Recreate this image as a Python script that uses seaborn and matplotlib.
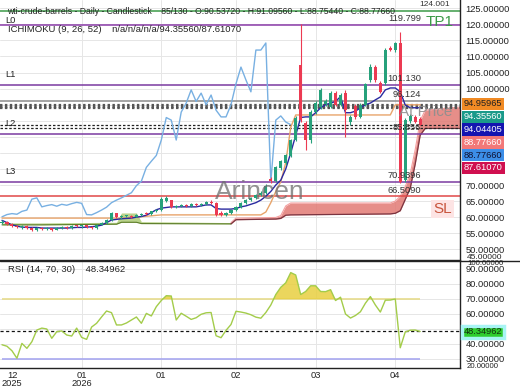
import numpy as np
import pandas as pd
import matplotlib
matplotlib.use("Agg")
import matplotlib.pyplot as plt
import seaborn as sns
from matplotlib.lines import Line2D

sns.set_style("white")
plt.rcParams['font.family'] = ['Liberation Sans', 'DejaVu Sans']

# ---- candles (85 daily bars) ----
opens = [58.2, 58.6, 57.9, 57.3, 56.8, 57.2, 56.5, 56.0, 56.6, 56.2,
         56.5, 56.1, 56.7, 57.0, 56.6, 57.3, 57.1, 57.4, 56.9, 56.5,
         57.6, 58.3, 59.1, 61.2, 59.9, 60.3, 60.5, 60.1, 60.8, 61.1,
         60.9, 61.8, 62.2, 65.0, 65.2, 63.2, 63.6, 63.9, 63.4, 64.0,
         63.7, 64.2, 64.6, 64.3, 61.2, 60.7, 61.4, 62.2, 63.1, 64.5,
         65.3, 66.0, 66.8, 67.6, 72.0, 71.2, 75.2, 76.8, 79.0, 84.0,
         107.3, 89.3, 84.0, 92.7, 94.3, 95.2, 94.3, 98.6, 95.0, 98.6,
         89.5, 94.7, 91.2, 95.0, 102.7, 106.7, 101.7, 101.7, 112.5, 112.0,
         114.2, 71.6, 89.8, 91.2, 90.5372]
highs = [59.0, 58.9, 58.2, 57.6, 57.5, 57.4, 56.9, 56.8, 56.9, 56.8,
         56.7, 56.9, 57.3, 57.2, 57.5, 57.6, 57.6, 57.7, 57.3, 57.8,
         58.6, 59.4, 61.6, 61.4, 60.6, 60.8, 60.7, 61.0, 61.4, 61.5,
         62.0, 62.5, 66.2, 66.5, 65.4, 63.9, 64.1, 64.2, 64.3, 64.3,
         64.5, 64.9, 65.2, 64.6, 61.8, 61.6, 62.5, 63.4, 64.8, 65.7,
         66.3, 67.2, 68.0, 70.2, 72.6, 75.9, 77.8, 79.6, 84.4, 91.5,
         120.0, 90.0, 93.3, 96.0, 100.3, 96.8, 99.2, 99.3, 98.5, 99.5,
         91.8, 95.3, 95.5, 101.9, 107.6, 107.3, 102.3, 112.6, 113.2, 114.6,
         117.6, 91.0, 92.0, 91.8, 91.0956]
lows = [57.8, 57.6, 57.0, 56.5, 56.4, 56.2, 55.8, 55.7, 55.9, 55.9,
        55.8, 55.9, 56.4, 56.3, 56.4, 56.8, 56.7, 56.6, 56.2, 56.3,
        57.4, 58.0, 58.9, 59.6, 59.5, 59.9, 59.8, 59.9, 60.5, 60.6,
        60.7, 61.5, 62.0, 64.6, 62.8, 62.9, 63.2, 63.1, 63.2, 63.4,
        63.5, 63.9, 64.0, 60.2, 60.3, 60.4, 61.1, 62.0, 62.9, 64.2,
        64.9, 65.6, 66.5, 67.3, 70.6, 70.9, 74.8, 76.3, 78.6, 83.6,
        89.5, 81.0, 83.0, 92.0, 93.8, 94.5, 93.9, 94.6, 94.5, 85.0,
        88.8, 90.6, 90.8, 94.6, 102.2, 102.2, 98.5, 101.2, 111.6, 111.5,
        70.5, 70.9, 89.4, 89.3, 88.7544]
closes = [58.6, 57.9, 57.3, 56.8, 57.2, 56.5, 56.0, 56.6, 56.2, 56.5,
          56.1, 56.7, 57.0, 56.6, 57.3, 57.1, 57.4, 56.9, 56.5, 57.6,
          58.3, 59.1, 61.2, 59.9, 60.3, 60.5, 60.1, 60.8, 61.1, 60.9,
          61.8, 62.2, 65.6, 66.0, 63.2, 63.6, 63.9, 63.4, 64.0, 63.7,
          64.2, 64.6, 64.3, 60.8, 60.7, 61.4, 62.2, 63.1, 64.5, 65.3,
          66.0, 66.8, 67.6, 69.8, 71.2, 75.5, 77.4, 79.2, 84.0, 91.0,
          90.2, 84.0, 92.7, 95.5, 99.6, 96.0, 98.6, 95.0, 98.0, 93.3,
          91.2, 91.2, 95.0, 101.5, 106.7, 102.7, 99.0, 112.0, 112.0, 114.2,
          71.0, 90.2, 91.5, 89.6, 88.7766]

# ---- ichimoku lines ----
tenkan = [59.0, 58.3, 57.6, 57.2, 56.9, 56.8, 56.8, 56.8, 56.6, 56.6,
          56.6, 56.6, 56.6, 56.6, 56.7, 56.8, 56.8, 56.9, 57.0, 57.2,
          57.5, 58.3, 59.1, 59.3, 59.5, 59.6, 59.7, 60.0, 60.2, 60.6,
          61.4, 62.3, 62.8, 63.0, 63.2, 63.2, 63.2, 63.2, 63.2, 63.2,
          63.5, 63.8, 63.8, 62.7, 62.5, 62.5, 62.5, 62.7, 63.2, 63.5,
          64.0, 64.5, 65.3, 66.5, 68.0, 70.0, 71.5, 75.0, 80.0, 85.5,
          91.0, 91.2, 91.2, 92.5, 94.0, 95.0, 95.5, 96.0, 97.5, 92.5,
          92.5, 93.0, 94.0, 95.0, 95.5, 96.5, 97.4, 99.6, 100.2, 100.2,
          99.0, 94.9, 94.04, 94.04, 94.04405]
kijun_idx = [0, 25, 32, 52, 53, 54, 55, 56, 57, 58, 59, 78, 79, 84]
kijun = [59.7, 59.7, 60.7, 60.7, 61.6, 64.5, 68.0, 71.0, 77.0, 88.0,
         91.8, 91.8, 94.95965, 94.95965]

cloud_g_idx = [0, 8, 23, 24, 27, 28, 46]
cloud_g_a = [58.2, 58.2, 58.4, 61.3, 61.3, 58.6, 58.3]
cloud_g_b = [57.6, 57.6, 57.8, 58.4, 58.4, 58.0, 57.9]
cloud_r_idx = [46, 47, 55, 56, 57, 58, 78, 79, 80, 81, 82, 83, 84, 85, 93]
cloud_r_a = [58.3, 59.7, 59.9, 60.5, 63.5, 64.4, 64.4, 65.0, 66.5, 69.5,
             73.5, 81.0, 90.0, 93.3, 94.4]
cloud_r_b = [57.9, 59.2, 59.4, 59.6, 60.6, 60.7, 61.0, 61.2, 62.0, 65.5,
             69.0, 76.5, 85.5, 87.6, 87.6]

# ---- RSI (14) ----
rsi = [39.5, 38.5, 35.5, 30.5, 40.4, 37.1, 41.5, 49.3, 50.6, 50.0,
       43.8, 48.2, 48.7, 46.0, 45.3, 50.6, 44.4, 43.1, 51.3, 53.8,
       58.0, 62.0, 60.9, 52.7, 52.7, 54.0, 56.0, 58.0, 53.8, 60.4,
       58.7, 64.9, 69.0, 72.2, 72.0, 56.0, 60.5, 58.5, 56.4, 57.5,
       59.8, 60.8, 61.0, 45.5, 44.2, 49.1, 53.0, 61.8, 61.3, 60.6,
       59.5, 57.9, 57.2, 61.0, 66.0, 73.0, 77.8, 80.8, 87.6, 86.0,
       73.0, 75.0, 78.8, 78.8, 75.0, 74.9, 76.2, 69.0, 71.2, 60.0,
       57.3, 59.0, 61.5, 67.2, 71.6, 66.0, 61.3, 69.2, 69.3, 70.0,
       37.5, 48.0, 49.2, 49.3, 48.34962]

month_idx = [2, 16, 32, 47, 63, 79]
month_labels = ["12\n2025", "01\n2026", "01", "02", "03", "04"]

levels = [124.001, 119.799, 101.130, 96.124, 85.856, 70.9396, 66.5090]
level_labels = ["124.001", "119.799", "101.130", "96.124", "85.856", "70.9396", "66.5090"]
level_names = ["", "L0", "L1", "", "L2", "L3", ""]
level_colors = ["#3c9a48", "#8a3aa8", "#7a3aa0", "#8c8c8c", "#7a3aa0", "#7a3aa0", "#e04848"]
dotted_levels = [94.95965, 94.35560, 94.04405]
dashed_levels = [88.77660, 87.61070]
box_texts = ["94.95965", "94.35560", "94.04405", "88.77660", "88.77660", "87.61070"]
box_bg = ["#f08a24", "#1a9a8a", "#1414b0", "#f27878", "#3c8ee8", "#d01050"]
box_fg = ["#202020", "white", "white", "white", "#101030", "white"]

GREEN, RED = "#26a17b", "#ec3a52"
W, H = 520, 390

df = pd.DataFrame({"o": opens, "h": highs, "l": lows, "c": closes})
df["i"] = np.arange(len(df))
n = len(df)

fig = plt.figure(figsize=(5.2, 3.9), dpi=100)
ax = fig.add_axes([0, 1 - 260 / H, 460 / W, 260 / H])
ax2 = fig.add_axes([0, 1 - 368 / H, 460 / W, 107 / H], sharex=ax)

for a in (ax, ax2):
    a.set_facecolor("white")
    for s in ("left", "top"):
        a.spines[s].set_visible(False)
    for s in ("right", "bottom"):
        a.spines[s].set_color("#222222")
        a.spines[s].set_linewidth(1.0)
    a.yaxis.tick_right()
    a.tick_params(axis="both", length=0, labelsize=6.7, colors="#222222", pad=4)
    for t in month_idx[1:]:
        a.axvline(t, color="#e6e6e6", lw=0.7, zorder=0)

# ---- main panel ----
ax.set_xlim(-0.4, 92)
ax.set_ylim(46.66, 127.58)
yt = np.arange(50, 126, 5)
ax.set_yticks(yt)
ax.set_yticklabels(["" if 72 < v < 98 else f"{v:.5f}" for v in yt])
for v in yt:
    ax.axhline(v, color="#e6e6e6", lw=0.7, zorder=0)
ax.tick_params(axis="x", labelbottom=False)

# cloud
ax.fill_between(cloud_g_idx, cloud_g_a, cloud_g_b, color="#a9c86e", alpha=0.8, lw=0, zorder=1)
sns.lineplot(x=cloud_g_idx, y=cloud_g_b, ax=ax, color="#5d7d2a", lw=0.8, zorder=2)
ax.fill_between(cloud_r_idx, cloud_r_a, cloud_r_b, color="#e27a74", alpha=0.85, lw=0, zorder=1)
sns.lineplot(x=cloud_r_idx, y=cloud_r_a, ax=ax, color="#f4a0a0", lw=0.8, zorder=2)
sns.lineplot(x=cloud_r_idx, y=cloud_r_b, ax=ax, color="#7a3440", lw=0.9, zorder=2)

# horizontal levels
for v, c in zip(levels, level_colors):
    ax.axhline(v, color=c, lw=1.1, zorder=2)
for v in dotted_levels:
    ax.axhline(v, color="#555555", lw=1.6, ls=(0, (1.1, 1.1)), zorder=2)
for v in dashed_levels:
    ax.axhline(v, color="#222222", lw=0.9, ls=(0, (2, 1.5)), zorder=2)

# chikou, kijun, tenkan
sns.lineplot(x=df["i"][:-26].values, y=df["c"][26:].values, ax=ax, color="#78b0e2", lw=1.0, zorder=3)
sns.lineplot(x=kijun_idx, y=kijun, ax=ax, color="#e8a46a", lw=1.0, zorder=3)
sns.lineplot(x=df["i"], y=tenkan, ax=ax, color="#2a2aa0", lw=1.0, zorder=4)

# candles
up = df["c"] >= df["o"]
cols = np.where(up, GREEN, RED)
ax.vlines(df["i"], df["l"], df["h"], colors=cols, lw=0.8, zorder=5)
body = (df["c"] - df["o"]).abs().clip(lower=0.3)
ax.bar(df["i"], body, bottom=np.minimum(df["o"], df["c"]), width=0.62, color=cols, lw=0, zorder=6)

# texts on the main panel
for v, lab, nm in zip(levels, level_labels, level_names):
    if lab == "124.001":
        ax.text(83.9, v + 2.1, lab, fontsize=6.0, color="#333333", ha="left", va="center", zorder=7)
    else:
        ax.text(84.2, v + 1.9, lab, fontsize=6.7, color="#333333", ha="right", va="center", zorder=7)
    if nm:
        dy = 1.5 if nm == "L0" else 3.2
        ax.text(0.7, v + dy, nm, fontsize=6.7, color="#222222", ha="left", va="center", zorder=7)
ax.text(85, 120.6, "TP1", fontsize=11, color="#3c9a48", ha="left", va="center", zorder=7)
ax.text(86.6, 62.5, "SL", fontsize=11, color="#c8553d", ha="left", va="center", zorder=7,
        bbox=dict(boxstyle="square,pad=0.15", fc="#fde4e4", ec="none"))
ax.text(79.8, 92.6, "At Price", fontsize=11, color="#8e8e8e", alpha=0.9, ha="left",
        va="center", zorder=9, clip_on=True)
ax.text(51.8, 67.8, "Arincen", fontsize=19, color="#6e6e6e", alpha=0.75, ha="center",
        va="center", zorder=8)

fig.text(7 / W, 1 - 11.5 / H,
         "wti-crude-barrels - Daily - Candlestick    85/130 - O:90.53720 - H:91.09560 - L:88.75440 - C:88.77660",
         fontsize=6.2, color="#222222", va="center", ha="left", zorder=1)
fig.text(8 / W, 1 - 29 / H, "ICHIMOKU (9, 26, 52)    n/a/n/a/n/a/94.35560/87.61070",
         fontsize=6.8, color="#222222", va="center", ha="left")

for k, (t, bg, fg) in enumerate(zip(box_texts, box_bg, box_fg)):
    fig.text(464 / W, 1 - (104 + 12.8 * k) / H, t, fontsize=6.7, color=fg, va="center", ha="left",
             bbox=dict(boxstyle="square,pad=0.18", fc=bg, ec="none"))
fig.text(467 / W, 1 - 257.5 / H, "45.00000", fontsize=6.0, color="#222222", va="center", ha="left")

# ---- RSI panel ----
ax2.set_ylim(24.0, 95.33)
rt = np.arange(30, 91, 10)
ax2.set_yticks(rt)
ax2.set_yticklabels(["" if v == 50 else f"{v:.5f}" for v in rt])
for v in rt:
    ax2.axhline(v, color="#e6e6e6", lw=0.7, zorder=0)
ax2.hlines(70, 0, n - 1, color="#e6dc8c", lw=1.2, zorder=1)
ax2.hlines(30, 0, n - 1, color="#a8a8f0", lw=1.2, zorder=1)
ax2.axhline(48.34962, color="#111111", lw=0.9, ls=(0, (2.5, 2)), zorder=2)
r = np.array(rsi)
ax2.fill_between(df["i"], r, 70, where=r > 70, interpolate=True, color="#e8cf40", alpha=0.85, lw=0, zorder=2)
sns.lineplot(x=df["i"], y=rsi, ax=ax2, color="#a3cc4a", lw=1.0, zorder=3)
ax2.set_xticks(month_idx)
ax2.set_xticklabels(month_labels, fontsize=6.7, linespacing=0.95)
ax2.tick_params(axis="x", pad=2)
ax2.set_xlabel("")
ax2.set_ylabel("")
ax.set_xlabel("")
ax.set_ylabel("")
ax2.text(1.2, 89.5, "RSI (14, 70, 30)    48.34962", fontsize=6.8, color="#222222", va="center", ha="left")

fig.text(464 / W, 1 - 332 / H, "48.34962", fontsize=6.7, color="#113311", va="center", ha="left",
         bbox=dict(boxstyle="square,pad=0.18", fc="#2ecc2e", ec="#a8f4f4", lw=2.5))
fig.text(467 / W, 1 - 263.5 / H, "100.00000", fontsize=5.6, color="#222222", va="center", ha="left")
fig.text(467 / W, 1 - 366.5 / H, "20.00000", fontsize=5.6, color="#222222", va="center", ha="left")

fig.add_artist(Line2D([0, 1], [1 - 261 / H] * 2, color="#222222", lw=1.0))

fig.savefig("out.png", dpi=100)
